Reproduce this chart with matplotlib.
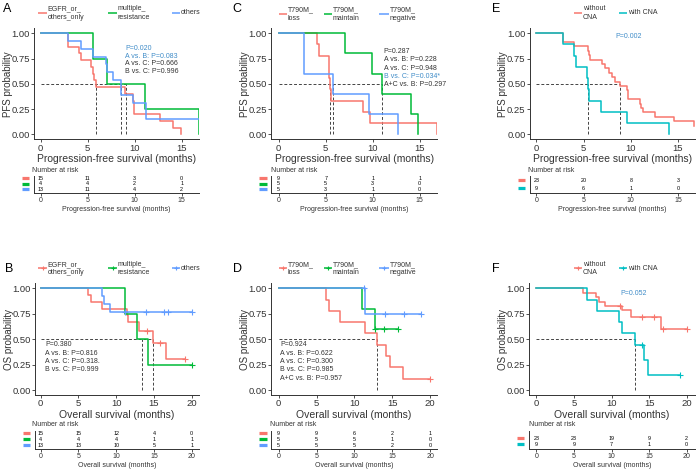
import matplotlib
matplotlib.use('Agg')
import matplotlib.pyplot as plt
from matplotlib.transforms import blended_transform_factory as btf

plt.rcParams['font.family'] = ['Liberation Sans', 'DejaVu Sans']

W, H = 696, 469
fig = plt.figure(figsize=(W / 100, H / 100), dpi=100)

RED, GREEN, BLUE, CYAN = '#F8766D', '#00BA38', '#619CFF', '#00BFC4'
PBLUE = '#3F8CC8'
DARK = '#333333'

# ---------------- data ----------------
# Panel A : PFS by resistance type
A_red_t = [0, 2.87, 4.1, 4.3, 5.4, 5.55, 5.7, 5.85, 9.0, 9.8, 9.9, 9.95, 12.7, 14.1, 14.9]
A_red_s = [1, .867, .8, .733, .667, .6, .533, .467, .4, .333, .267, .2, .133, .067, 0]
A_green_t = [0, 5.6, 7.02, 11.1, 16.8]
A_green_s = [1, .75, .5, .25, 0]
A_blue_t = [0, 2.87, 4.3, 5.6, 7.0, 7.1, 7.7, 8.5, 9.8, 11.2, 16.8]
A_blue_s = [1, .923, .846, .769, .692, .615, .538, .385, .308, .154, .154]
A_risk_red = [15, 11, 3, 0]
A_risk_green = [4, 4, 2, 1]
A_risk_blue = [13, 11, 4, 2]
A_pvals = ['P=0.020', 'A vs. B: P=0.083', 'A vs. C: P=0.666', 'B vs. C: P=0.996']

# Panel C : PFS by T790M status
C_red_t = [0, 4.08, 4.33, 5.3, 5.4, 5.5, 5.6, 8.97, 9.75, 16.8]
C_red_s = [1, .889, .778, .667, .556, .444, .333, .222, .111, 0]
C_green_t = [0, 7.02, 9.93, 11.0, 14.1, 14.8]
C_green_s = [1, .8, .6, .4, .2, 0]
C_blue_t = [0, 2.73, 5.74, 9.57, 12.66]
C_blue_s = [1, .6, .4, .2, 0]
C_risk_red = [9, 7, 1, 1]
C_risk_green = [5, 5, 3, 0]
C_risk_blue = [5, 3, 1, 0]
C_pvals = ['P=0.287', 'A vs. B: P=0.228', 'A vs. C: P=0.948', 'B vs. C: P=0.034*', 'A+C vs. B: P=0.297']

# Panel E : PFS by CNA
E_red_t = [0, 2.8, 4.03, 5.5, 5.6, 5.65, 6.94, 7.3, 7.7, 8.06, 8.34, 8.87, 9.6, 9.7, 9.75,
           10.97, 11.1, 11.3, 12.6, 14.6, 16.65]
E_red_s = [1, .913, .870, .826, .783, .739, .696, .652, .609, .565, .522, .478, .435, .391, .348,
           .304, .261, .217, .174, .130, .087]
E_cyan_t = [0, 2.8, 4.03, 4.24, 5.36, 5.47, 5.54, 6.87, 9.57, 14.0]
E_cyan_s = [1, .889, .778, .667, .556, .444, .333, .222, .111, 0]
E_risk_red = [23, 20, 8, 3]
E_risk_cyan = [9, 6, 1, 0]
E_pvals = ['P=0.002']

# Panel B : OS by resistance type
B_red_t = [0, 6.31, 6.62, 8.08, 11.4, 11.6, 13.07, 14.83, 16.55, 19.1]
B_red_s = [1, .933, .867, .8, .733, .667, .583, .464, .309, .309]
B_red_c = [14.05, 15.8, 19.1]
B_green_t = [0, 11.17, 12.7, 14.26, 20.1]
B_green_s = [1, .75, .5, .25, .25]
B_green_c = [20.1]
B_blue_t = [0, 8.08, 8.4, 9.2, 20.1]
B_blue_s = [1, .923, .846, .769, .769]
B_blue_c = [11.2, 14.0, 16.4, 16.9, 20.1]
B_risk_red = [15, 15, 12, 4, 0]
B_risk_green = [4, 4, 4, 1, 1]
B_risk_blue = [13, 13, 10, 5, 1]
B_pvals = ['P=0.380', 'A vs. B: P=0.816', 'A vs. C: P=0.318.', 'B vs. C: P=0.999']

# Panel D : OS by T790M status
D_red_t = [0, 6.24, 6.6, 8.13, 11.43, 12.97, 14.15, 14.73, 16.35, 20.0]
D_red_s = [1, .889, .778, .667, .556, .444, .333, .222, .111, .111]
D_red_c = [20.0]
D_green_t = [0, 11.0, 12.66, 15.7]
D_green_s = [1, .8, .6, .6]
D_green_c = [12.7, 13.93, 15.7]
D_blue_t = [0, 11.43, 18.8]
D_blue_s = [1, .75, .75]
D_blue_c = [11.2, 14.0, 16.5, 18.8]
D_risk_red = [9, 9, 6, 2, 1]
D_risk_green = [5, 5, 5, 1, 0]
D_risk_blue = [5, 5, 5, 2, 0]
D_pvals = ['P=0.924', 'A vs. B: P=0.622', 'A vs. C: P=0.300', 'B vs. C: P=0.985', 'A+C vs. B: P=0.957']

# Panel F : OS by CNA
F_red_t = [0, 6.25, 7.9, 8.3, 9.2, 11.44, 12.55, 16.54, 20.1]
F_red_s = [1, .957, .913, .870, .826, .783, .717, .6, .6]
F_red_c = [11.1, 14.0, 15.7, 16.85, 20.1]
F_cyan_t = [0, 6.7, 8.1, 11.0, 11.44, 13.08, 14.3, 14.9, 19.07]
F_cyan_s = [1, .889, .778, .667, .556, .444, .296, .148, .148]
F_cyan_c = [14.0, 19.07]
F_risk_red = [23, 23, 19, 9, 2]
F_risk_cyan = [9, 9, 7, 1, 0]
F_pvals = ['P=0.052']

PFS_TICKS = [0, 5, 10, 15]
OS_TICKS = [0, 5, 10, 15, 20]
YTICKS = [0, 0.25, 0.5, 0.75, 1.0]
YTICKLABELS = ['0.00', '0.25', '0.50', '0.75', '1.00']


# ---------------- helpers ----------------
def rect(l, t, r, b):
    return [l / W, 1 - b / H, (r - l) / W, (b - t) / H]


def surv_at(t, s, x):
    v = s[0]
    for ti, si in zip(t, s):
        if ti <= x:
            v = si
    return v


def median(t, s):
    for i in range(1, len(s)):
        if s[i] <= 0.5 + 1e-9:
            if abs(s[i] - 0.5) < 1e-9 and i + 1 < len(t):
                return (t[i] + t[i + 1]) / 2
            return t[i]
    return None


def style_axes(ax, labelsize):
    for sp in ['top', 'right']:
        ax.spines[sp].set_visible(False)
    for sp in ['left', 'bottom']:
        ax.spines[sp].set_color(DARK)
        ax.spines[sp].set_linewidth(0.7)
    ax.tick_params(labelsize=labelsize, length=2, width=0.6, colors=DARK, pad=1)
    ax.patch.set_alpha(0)


def main_panel(box, xlim, xticks, curves, ylabel, xlabel):
    ax = fig.add_axes(rect(*box))
    meds = []
    for c in curves:
        ax.step(c['t'], c['s'], where='post', color=c['col'], lw=1.1, zorder=3)
        if c.get('cens'):
            ax.plot(c['cens'], [surv_at(c['t'], c['s'], x) for x in c['cens']], ls='none',
                    marker='+', color=c['col'], ms=4, mew=0.8, zorder=4)
        m = median(c['t'], c['s'])
        if m is not None:
            meds.append(m)
    for m in meds:
        ax.plot([m, m], [0, 0.5], ls=(0, (3, 2)), color='#444444', lw=0.7, zorder=2)
    if meds:
        ax.plot([0, max(meds)], [0.5, 0.5], ls=(0, (3, 2)), color='#444444', lw=0.7, zorder=2)
    ax.set_xlim(*xlim)
    ax.set_ylim(-0.05, 1.05)
    ax.set_xticks(xticks)
    ax.set_yticks(YTICKS)
    ax.set_yticklabels(YTICKLABELS)
    style_axes(ax, 6.8)
    ax.set_ylabel(ylabel, fontsize=7, color=DARK)
    width_px = box[2] - box[0]
    ax.yaxis.set_label_coords(-21.5 / width_px, 0.5)
    ax.set_xlabel(xlabel, fontsize=7.5, color=DARK, labelpad=1)
    return ax


def risk_panel(box, xlim, xticks, rows, cols, ylim, xlabel):
    ax = fig.add_axes(rect(*box))
    tr = btf(ax.transAxes, ax.transData)
    for r, (vals, col) in enumerate(zip(rows, cols)):
        for x, v in zip(xticks, vals):
            ax.text(x, r, str(v), ha='center', va='center', fontsize=3.9, color='black')
        ax.plot([-0.072, -0.028], [r, r], transform=tr, color=col, lw=2.3,
                clip_on=False, solid_capstyle='butt')
    ax.set_xlim(*xlim)
    ax.set_ylim(*ylim)
    ax.set_xticks(xticks)
    ax.set_yticks([])
    style_axes(ax, 5)
    ax.tick_params(axis='x', length=2, pad=1)
    ax.set_xlabel(xlabel, fontsize=5, color=DARK, labelpad=1.5)
    return ax


# ---------------- main panels ----------------
TOP = (28.2, 139.4)
BOT = (283.2, 395.1)
PFS_LAB = 'Progression-free survival (months)'
OS_LAB = 'Overall survival (months)'

main_panel((34.1, TOP[0], 199, TOP[1]), (-0.7, 16.85), PFS_TICKS,
           [dict(t=A_red_t, s=A_red_s, col=RED), dict(t=A_green_t, s=A_green_s, col=GREEN),
            dict(t=A_blue_t, s=A_blue_s, col=BLUE)], 'PFS probability', PFS_LAB)
main_panel((271.3, TOP[0], 437, TOP[1]), (-0.79, 16.84), PFS_TICKS,
           [dict(t=C_red_t, s=C_red_s, col=RED), dict(t=C_green_t, s=C_green_s, col=GREEN),
            dict(t=C_blue_t, s=C_blue_s, col=BLUE)], 'PFS probability', PFS_LAB)
main_panel((529.7, TOP[0], 695, TOP[1]), (-0.7, 16.8), PFS_TICKS,
           [dict(t=E_red_t, s=E_red_s, col=RED), dict(t=E_cyan_t, s=E_cyan_s, col=CYAN)],
           'PFS probability', PFS_LAB)
main_panel((35, BOT[0], 199, BOT[1]), (-0.75, 20.97), OS_TICKS,
           [dict(t=B_red_t, s=B_red_s, col=RED, cens=B_red_c),
            dict(t=B_green_t, s=B_green_s, col=GREEN, cens=B_green_c),
            dict(t=B_blue_t, s=B_blue_s, col=BLUE, cens=B_blue_c)], 'OS probability', OS_LAB)
main_panel((271.3, BOT[0], 437, BOT[1]), (-0.98, 20.9), OS_TICKS,
           [dict(t=D_red_t, s=D_red_s, col=RED, cens=D_red_c),
            dict(t=D_green_t, s=D_green_s, col=GREEN, cens=D_green_c),
            dict(t=D_blue_t, s=D_blue_s, col=BLUE, cens=D_blue_c)], 'OS probability', OS_LAB)
main_panel((529, BOT[0], 695, BOT[1]), (-0.97, 21.1), OS_TICKS,
           [dict(t=F_red_t, s=F_red_s, col=RED, cens=F_red_c),
            dict(t=F_cyan_t, s=F_cyan_s, col=CYAN, cens=F_cyan_c)], 'OS probability', OS_LAB)

# ---------------- risk tables ----------------
risk_panel((34.1, 176, 199, 193), (-0.7, 16.85), PFS_TICKS,
           [A_risk_red, A_risk_green, A_risk_blue], [RED, GREEN, BLUE], (2.68, -0.36), PFS_LAB)
risk_panel((271.3, 176, 437, 193), (-0.79, 16.84), PFS_TICKS,
           [C_risk_red, C_risk_green, C_risk_blue], [RED, GREEN, BLUE], (2.68, -0.36), PFS_LAB)
risk_panel((529.7, 176, 695, 193), (-0.7, 16.8), PFS_TICKS,
           [E_risk_red, E_risk_cyan], [RED, CYAN], (1.59, -0.54), PFS_LAB)
risk_panel((35, 431, 199, 448.5), (-0.75, 20.97), OS_TICKS,
           [B_risk_red, B_risk_green, B_risk_blue], [RED, GREEN, BLUE], (2.59, -0.43), OS_LAB)
risk_panel((271.3, 431, 437, 448.5), (-0.98, 20.9), OS_TICKS,
           [D_risk_red, D_risk_green, D_risk_blue], [RED, GREEN, BLUE], (2.59, -0.43), OS_LAB)
risk_panel((529, 431, 695, 448.5), (-0.97, 21.1), OS_TICKS,
           [F_risk_red, F_risk_cyan], [RED, CYAN], (1.7, -1.2), OS_LAB)

# ---------------- overlay: letters, legends, p-values ----------------
ov = fig.add_axes([0, 0, 1, 1], zorder=10)
ov.set_xlim(0, W)
ov.set_ylim(H, 0)
ov.axis('off')

for letter, x, y in [('A', 3, 3), ('C', 232, 3), ('E', 492, 3),
                     ('B', 5, 263.5), ('D', 233.5, 263.5), ('F', 492, 263.5)]:
    ov.text(x, y, letter, fontsize=9, ha='left', va='top', color='black')


def legend(items, y, cens=False):
    for x0, x1, label, col in items:
        ov.plot([x0, x1], [y, y], color=col, lw=1.1, solid_capstyle='butt')
        if cens:
            ov.plot([(x0 + x1) / 2], [y], marker='+', color=col, ms=3.5, mew=0.8)
        ov.text(x1 + 0.8, y, label, fontsize=5, ha='left', va='center', color=DARK,
                linespacing=1.25)


legend([(38, 47, 'EGFR_or_\nothers_only', RED), (108, 117, 'multiple_\nresistance', GREEN),
        (172, 180, 'others', BLUE)], 13)
legend([(278.7, 287, 'T790M_\nloss', RED), (323.7, 332, 'T790M_\nmaintain', GREEN),
        (378.7, 388.7, 'T790M_\nnegative', BLUE)], 14)
legend([(574, 582, 'without\nCNA', RED), (619, 627, 'with CNA', CYAN)], 13)
legend([(38, 47, 'EGFR_or_\nothers_only', RED), (108, 117, 'multiple_\nresistance', GREEN),
        (172, 180, 'others', BLUE)], 268.5, cens=True)
legend([(278.7, 287, 'T790M_\nloss', RED), (323.7, 332, 'T790M_\nmaintain', GREEN),
        (378.7, 388.7, 'T790M_\nnegative', BLUE)], 268.5, cens=True)
legend([(574, 582, 'without\nCNA', RED), (619, 627, 'with CNA', CYAN)], 268.5, cens=True)


def pvals(lines, x, y0, dy, blue_idx):
    for i, s in enumerate(lines):
        ov.text(x, y0 + i * dy, s, fontsize=5, ha='left', va='center',
                color=PBLUE if i in blue_idx else DARK)


pvals(A_pvals, 125, 48.3, 7.8, {0, 1})
pvals(C_pvals, 383.7, 51.7, 8.2, {3})
pvals(E_pvals, 615.7, 36, 8, {0})
pvals(B_pvals, 45, 345, 8.3, set())
pvals(D_pvals, 280.3, 345, 8.3, set())
pvals(F_pvals, 620, 293.3, 8, {0})

for x, y in [(32.3, 170), (271, 170), (528.3, 170), (32.3, 425), (270.3, 425), (529, 425)]:
    ov.text(x, y, 'Number at risk', fontsize=5, ha='left', va='center', color=DARK)

fig.savefig('out.png', dpi=100)
